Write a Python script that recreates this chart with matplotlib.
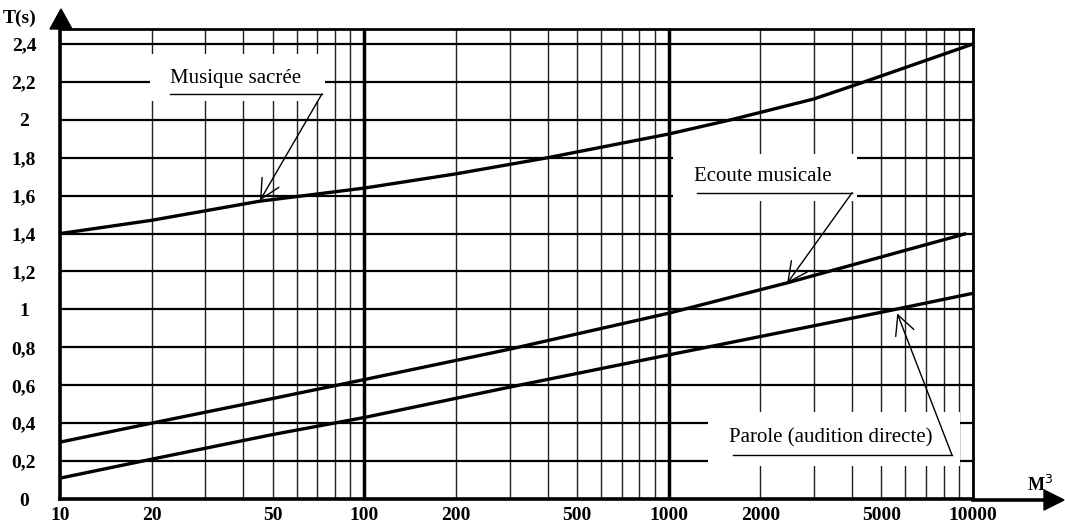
import numpy as np
import matplotlib
matplotlib.use("Agg")
import matplotlib.pyplot as plt
from matplotlib.patches import Polygon
from matplotlib.ticker import LogLocator, NullFormatter, FixedLocator

plt.rcParams['font.family'] = ['Liberation Serif', 'DejaVu Serif']

# volume (m3) / reverberation time (s)
vol_sacree = [10, 20, 45, 100, 200, 400, 1000, 1600, 3000, 4300, 10000]
t_sacree = [1.40, 1.47, 1.57, 1.64, 1.715, 1.80, 1.925, 2.00, 2.11, 2.195, 2.40]

vol_ecoute = [10, 20, 50, 100, 300, 1000, 2450, 9500]
t_ecoute = [0.30, 0.40, 0.53, 0.63, 0.79, 0.98, 1.14, 1.40]

vol_parole = [10, 20, 50, 100, 300, 1000, 5000, 10000]
t_parole = [0.11, 0.21, 0.34, 0.43, 0.59, 0.76, 0.985, 1.085]

x_ticks = [10, 20, 50, 100, 200, 500, 1000, 2000, 5000, 10000]
y_ticks = [0, 0.2, 0.4, 0.6, 0.8, 1.0, 1.2, 1.4, 1.6, 1.8, 2.0, 2.2, 2.4]
y_labels = ['0', '0,2', '0,4', '0,6', '0,8', '1', '1,2', '1,4', '1,6', '1,8', '2', '2,2', '2,4']

W, H = 1065, 529
fig = plt.figure(figsize=(W / 100, H / 100), dpi=100)
ax = fig.add_axes([60 / W, 30 / H, 913 / W, 470 / H])
ax.set_xscale('log')
ax.set_xlim(10, 10000)
ax.set_ylim(0, 2.479)

ax.xaxis.set_major_locator(FixedLocator(x_ticks))
ax.set_xticklabels([str(v) for v in x_ticks])
ax.xaxis.set_minor_locator(LogLocator(base=10, subs=np.arange(1, 10)))
ax.xaxis.set_minor_formatter(NullFormatter())
ax.set_yticks(y_ticks)
ax.set_yticklabels(y_labels, ha='center')
ax.tick_params(axis='both', which='both', length=0)
ax.tick_params(axis='x', pad=6, labelsize=14)
ax.tick_params(axis='y', pad=26, labelsize=14)
for lab in ax.get_xticklabels() + ax.get_yticklabels():
    lab.set_fontweight('bold')

ax.set_axisbelow(True)
ax.grid(axis='y', which='major', color='black', lw=1.6)
ax.grid(axis='x', which='both', color='#222222', lw=1.0)
for d in (100, 1000):
    ax.axvline(d, color='black', lw=2.5, zorder=0.6)

for side, lw in (('left', 2.6), ('bottom', 2.6), ('top', 2.0), ('right', 2.0)):
    ax.spines[side].set_linewidth(lw)

# white boxes behind the labels (break the grid)
def blank(x0, x1, y0, y1):
    ax.fill([x0, x1, x1, x0], [y0, y0, y1, y1], color='white', zorder=1, lw=0)

blank(19.8, 74, 2.10, 2.347)
blank(1030, 4160, 1.574, 1.821)
blank(1346, 9080, 0.174, 0.458)

for v, t in ((vol_sacree, t_sacree), (vol_ecoute, t_ecoute), (vol_parole, t_parole)):
    ax.plot(v, t, color='black', lw=2.4, solid_capstyle='butt', zorder=3)

arrow = dict(arrowstyle='->,head_length=0.7,head_width=0.35', color='black',
             lw=1.0, mutation_scale=20, shrinkA=0, shrinkB=0)

def label(text, xt, yt, x0, x1, yl, xp, yp):
    ax.text(xt, yt, text, fontsize=15, ha='left', va='center', zorder=4)
    ax.plot([x0, x1], [yl, yl], color='black', lw=1.0, zorder=4)
    ax.annotate('', xy=(xp, yp), xytext=(x1, yl), arrowprops=arrow, zorder=4)

label('Musique sacrée', 23.0, 2.22, 23.0, 72.6, 2.137, 45.4, 1.574)
label('Ecoute musicale', 1210, 1.70, 1239, 4008, 1.616, 2449, 1.137)
label('Parole (audition directe)', 1580, 0.32, 1629, 8530, 0.2316, 5636, 0.979)

# axis titles
fig.text(3 / W, 1 - 18 / H, 'T(s)', fontsize=14, fontweight='bold', ha='left', va='center')
fig.text(1027 / W, 1 - 485 / H, 'M$^3$', fontsize=13, fontweight='bold', ha='left', va='center')

# axis arrows
def px(x, y):
    return (x / W, 1 - y / H)

fig.add_artist(Polygon([px(61, 9), px(50, 29), px(72, 29)], closed=True,
                       color='black', transform=fig.transFigure))
fig.add_artist(Polygon([px(1064, 500), px(1044, 490), px(1044, 510)], closed=True,
                       color='black', transform=fig.transFigure))
fig.add_artist(plt.Line2D([973 / W, 1046 / W], [1 - 500 / H, 1 - 500 / H],
                          color='black', lw=2.6, transform=fig.transFigure))

fig.savefig('out.png', dpi=100)
